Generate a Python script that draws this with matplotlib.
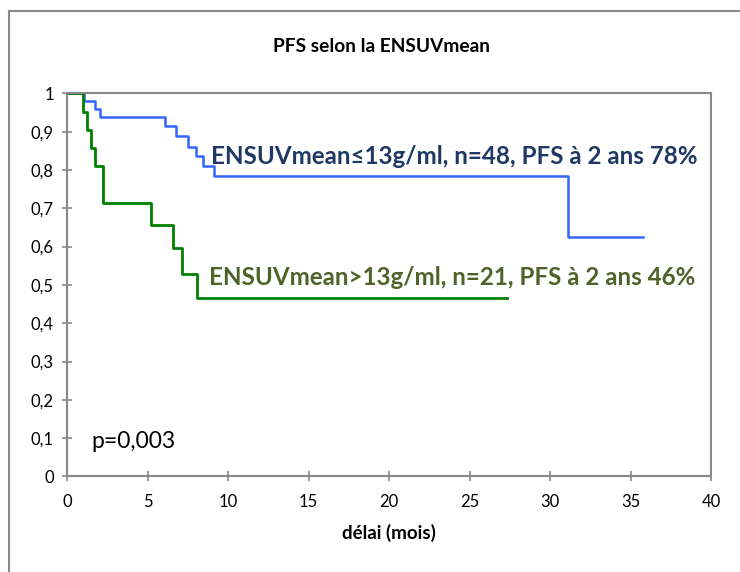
import matplotlib
matplotlib.use('Agg')
import matplotlib.pyplot as plt
from matplotlib.patches import Rectangle

# Kaplan-Meier step data
low_times = [0, 1.06, 1.74, 2.05, 6.09, 6.77, 7.53, 8.01, 8.43, 9.13, 31.1, 35.75]
low_surv = [1.0, 0.979, 0.958, 0.9375, 0.915, 0.889, 0.861, 0.836, 0.81, 0.784, 0.625, 0.625]

high_times = [0, 0.97, 1.22, 1.47, 1.74, 2.25, 5.2, 6.56, 7.16, 8.09, 27.3]
high_surv = [1.0, 0.952, 0.905, 0.857, 0.81, 0.714, 0.656, 0.596, 0.528, 0.465, 0.465]

y_ticks = [0, 0.1, 0.2, 0.3, 0.4, 0.5, 0.6, 0.7, 0.8, 0.9, 1]
y_labels = ['0', '0,1', '0,2', '0,3', '0,4', '0,5', '0,6', '0,7', '0,8', '0,9', '1']
x_ticks = [0, 5, 10, 15, 20, 25, 30, 35, 40]

low_label = 'ENSUVmean≤13g/ml, n=48, PFS à 2 ans 78%'
high_label = 'ENSUVmean>13g/ml, n=21, PFS à 2 ans 46%'

plt.rcParams['font.family'] = ['Lato', 'DejaVu Sans']

fig = plt.figure(figsize=(7.4, 5.72), dpi=100)
ax = fig.add_axes([67 / 740, 95.6 / 572, 644 / 740, 383 / 572])

grey = '#898989'

# outer chart frame (cut off at right and bottom in the reference)
fig.patches.append(Rectangle((9 / 740, -0.1), 1.2, (572 - 11) / 572 + 0.1,
                             transform=fig.transFigure, fill=False,
                             edgecolor=grey, linewidth=1.5))

ax.step(low_times, low_surv, where='post', color='#3366FF', linewidth=1.8)
ax.step(high_times, high_surv, where='post', color='#008000', linewidth=2.0)

ax.set_xlim(0, 40)
ax.set_ylim(0, 1)
ax.set_xticks(x_ticks)
ax.set_yticks(y_ticks)
ax.set_yticklabels(y_labels)
ax.tick_params(direction='inout', length=7, width=1.2, color=grey,
               labelsize=12)
ax.tick_params(axis='x', pad=9)
ax.tick_params(axis='y', pad=6)
for s in ax.spines.values():
    s.set_color(grey)
    s.set_linewidth(1.5)

ax.set_xlabel('délai (mois)', fontsize=13.5, fontweight='bold', labelpad=10)
fig.text(382 / 740, 1 - 47 / 572, 'PFS selon la ENSUVmean', ha='center',
         va='center', fontsize=13.8, fontweight='bold')

ax.text(8.95, 0.836, low_label, fontsize=17.4, fontweight='bold',
        color='#1F3864', va='center', ha='left')
ax.text(8.85, 0.52, high_label, fontsize=17.4, fontweight='bold',
        color='#4F6228', va='center', ha='left')
ax.text(1.5, 0.09, 'p=0,003', fontsize=16.5, va='center', ha='left')

fig.savefig('out.png', dpi=100)
